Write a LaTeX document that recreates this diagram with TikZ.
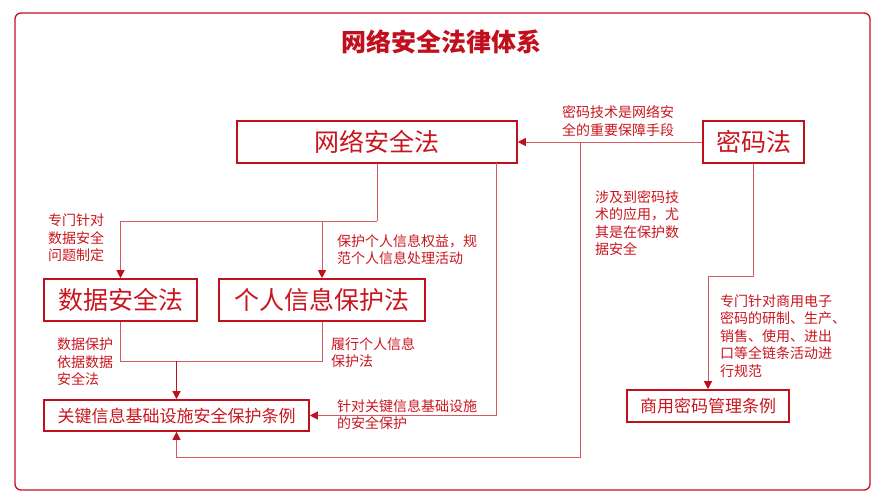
\documentclass[tikz,border=0pt]{standalone}
\usepackage{fontspec}
\setmainfont{Noto Sans CJK SC}
\usetikzlibrary{arrows.meta}
\definecolor{dred}{HTML}{C0101E}
\definecolor{tred}{HTML}{C8161E}
\definecolor{lred}{HTML}{D45A64}
\tikzset{
  big/.style={draw=dred,line width=1.6pt,inner sep=0pt,text=tred,font=\fontsize{25}{27}\selectfont},
  mid/.style={draw=dred,line width=1.6pt,inner sep=0pt,text=tred,font=\fontsize{17}{19}\selectfont},
  lbl/.style={inner sep=0pt,text=tred,font=\fontsize{14}{17.5}\selectfont,align=left,anchor=north west},
  conn/.style={draw=lred,line width=0.9pt},
  arr/.style={conn,-{Triangle[length=8pt,width=8pt,color=dred]}},
  thickarr/.style={draw=dred,line width=1.4pt,-{Triangle[length=8pt,width=8pt]}}
}
\begin{document}
\begin{tikzpicture}[x=1pt,y=-1pt]
\useasboundingbox (0,0) rectangle (882,500);
\draw[dred,line width=1.3pt,rounded corners=6pt] (15,13) rectangle (870,490);
\node[text=dred,font=\fontsize{25}{27}\selectfont\bfseries] (title) at (441,42) {网络安全法律体系};

\node[big,minimum width=280pt,minimum height=42pt] (wl) at (377,142) {网络安全法};
\node[big,minimum width=101pt,minimum height=42pt] (ml) at (753.5,142) {密码法};
\node[big,minimum width=153pt,minimum height=42pt] (sj) at (120.5,300) {数据安全法};
\node[big,minimum width=206pt,minimum height=42pt] (gr) at (322,300) {个人信息保护法};
\node[mid,minimum width=265pt,minimum height=31pt] (gj) at (176.5,415.5) {关键信息基础设施安全保护条例};
\node[mid,minimum width=162pt,minimum height=32pt] (sy) at (708,406) {商用密码管理条例};

% 密码法 -> 网络安全法
\draw[arr] (ml.west) -- (wl.east);
\node[lbl,align=center,anchor=center] (l1) at (618,121) {密码技术是网络安\\全的重要保障手段};

% 密码法 -> 关键 (via bottom)
\coordinate (j1) at (580,142);
\draw[arr] (j1) -- (580,457) -| (gj.south);
\node[lbl] (l2) at (595,190) {涉及到密码技\\术的应用，尤\\其是在保护数\\据安全};

% 网络安全法 -> 数据安全法 / 个人信息保护法
\coordinate (b1) at (377,221);
\draw[conn] (wl.south) -- (b1);
\draw[arr] (b1) -| (sj.north);
\draw[arr] (gr.north |- b1) -- (gr.north);
\node[lbl] (l3) at (48,214) {专门针对\\数据安全\\问题制定};
\node[lbl] (l4) at (337,234) {保护个人信息权益，规\\范个人信息处理活动};

% 数据安全法 + 个人信息保护法 -> 关键
\coordinate (b2) at (120.5,361);
\draw[conn] (sj.south) -- (b2) -| (gr.south);
\draw[thickarr] (gj.north |- b2) -- (gj.north);
\node[lbl] (l5) at (57,338) {数据保护\\依据数据\\安全法};
\node[lbl] (l6) at (331,337) {履行个人信息\\保护法};

% 网络安全法 -> 关键
\coordinate (r1) at (496,163);
\draw[arr] (r1) |- (gj.east);
\node[lbl] (l7) at (337,399) {针对关键信息基础设施\\的安全保护};

% 密码法 -> 商用
\coordinate (b3) at (753.5,276);
\draw[conn] (ml.south) -- (b3);
\draw[arr] (b3) -| (sy.north);
\node[lbl] (l8) at (720,294) {专门针对商用电子\\密码的研制、生产、\\销售、使用、进出\\口等全链条活动进\\行规范};
\end{tikzpicture}
\end{document}
